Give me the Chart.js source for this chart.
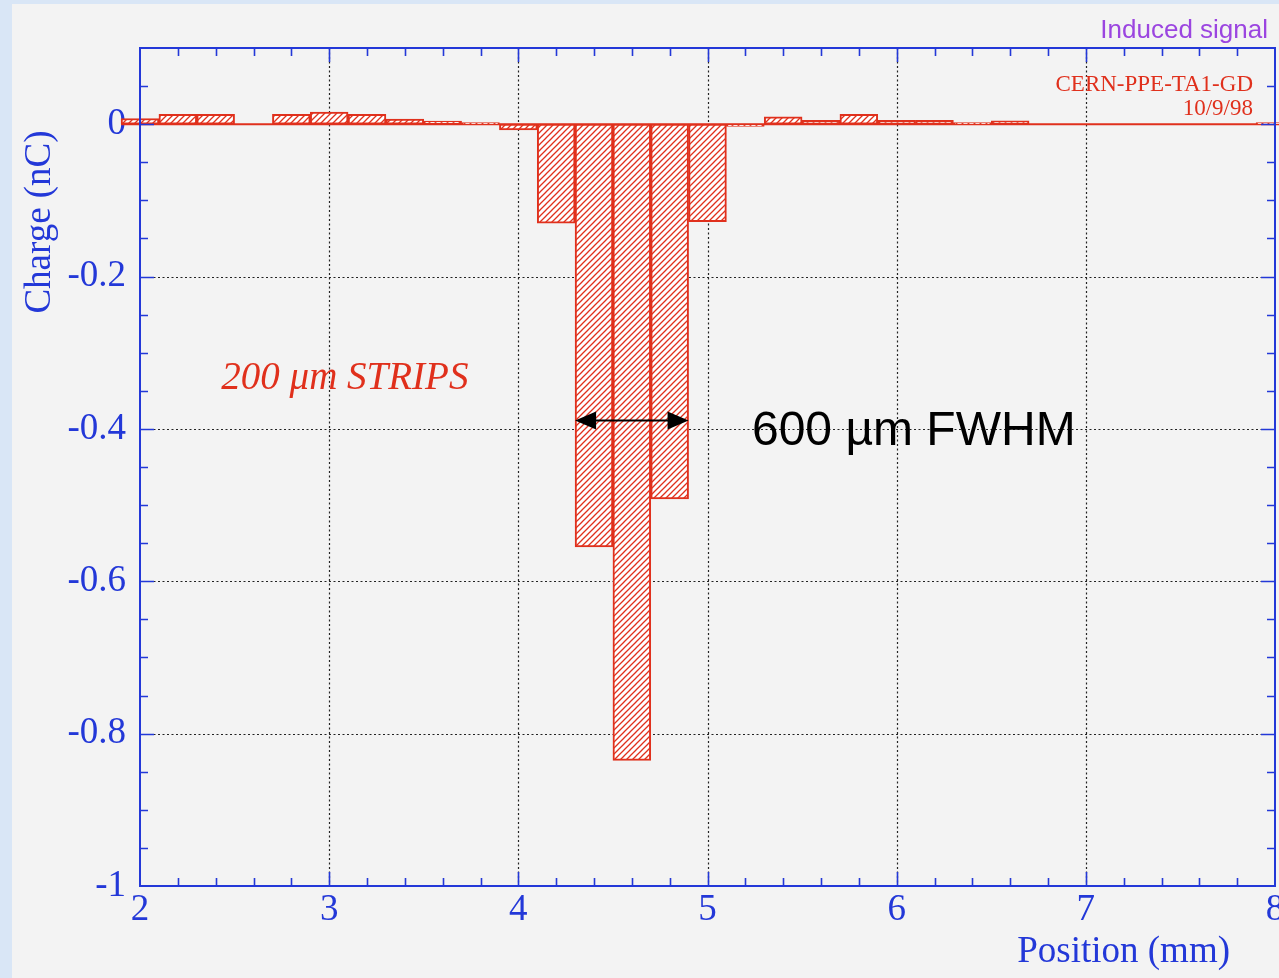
<!DOCTYPE html>
<html>
<head>
<meta charset="utf-8">
<script src="https://cdn.jsdelivr.net/npm/chart.js@4/dist/chart.umd.min.js"></script>
<style>
html,body{margin:0;padding:0;background:#d9e6f6;}
canvas{display:block;}
</style>
</head>
<body>
<canvas id="c" width="1279" height="978" style="width:1279px;height:978px"></canvas>
<script>
// ---- data ----
const positions = [2.0,2.2,2.4,2.6,2.8,3.0,3.2,3.4,3.6,3.8,4.0,4.2,4.4,4.6,4.8,5.0,5.2,5.4,5.6,5.8,6.0,6.2,6.4,6.6,6.8,7.0,7.2,7.4,7.6,7.8,8.0];
const charges   = [0.0075,0.013,0.013,0,0.013,0.016,0.013,0.0066,0.004,0.002,-0.0075,-0.130,-0.555,-0.835,-0.492,-0.128,-0.003,0.0096,0.005,0.013,0.005,0.005,0.002,0.0045,0,0,0,0,0,0,0.002];
const binWidth = 0.2;
const xTickValues = [2,3,4,5,6,7,8];
const xTickLabels = ['2','3','4','5','6','7','8'];
const xMinorStep = 0.2;
const yTickValues = [0,-0.2,-0.4,-0.6,-0.8,-1];
const yTickLabels = ['0','-0.2','-0.4','-0.6','-0.8','-1'];
const yMinorStep = 0.05;
const xTitle = 'Position (mm)';
const yTitle = 'Charge (nC)';
const fwhmArrow = [4.3, 4.9, -0.389];

const BLUE = '#2338d8';
const RED = '#e0301c';
const SERIF = '"Liberation Serif", "Times New Roman", serif';

// hatch pattern
function makeHatch(){
  const p = document.createElement('canvas');
  p.width = 6; p.height = 6;
  const g = p.getContext('2d');
  g.fillStyle = '#ffffff';
  g.fillRect(0,0,6,6);
  g.strokeStyle = RED;
  g.lineWidth = 1.3;
  g.beginPath();
  g.moveTo(-1,7); g.lineTo(7,-1);
  g.moveTo(-1,1); g.lineTo(1,-1);
  g.moveTo(5,7); g.lineTo(7,5);
  g.stroke();
  return g.createPattern(p,'repeat');
}
const ctx0 = document.getElementById('c').getContext('2d');
const hatch = makeHatch();

const bgPlugin = {
  id:'bg',
  beforeDraw(chart){
    const c = chart.ctx;
    c.save();
    c.fillStyle = '#d9e6f6';
    c.fillRect(0,0,chart.width,chart.height);
    c.fillStyle = '#f3f3f3';
    c.fillRect(12,4,chart.width-12,chart.height-4);
    c.restore();
  },
  beforeDatasetsDraw(chart){
    const c = chart.ctx, xs = chart.scales.x, ys = chart.scales.y, a = chart.chartArea;
    c.save();
    c.strokeStyle = '#222';
    c.lineWidth = 1.2;
    c.setLineDash([2,2.5]);
    xTickValues.forEach(v=>{
      if (v <= xs.min || v >= xs.max) return;
      const px = Math.round(xs.getPixelForValue(v))+0.5;
      c.beginPath(); c.moveTo(px,a.top); c.lineTo(px,a.bottom); c.stroke();
    });
    yTickValues.forEach(v=>{
      if (v <= ys.min || v >= ys.max || v === 0) return;
      const py = Math.round(ys.getPixelForValue(v))+0.5;
      c.beginPath(); c.moveTo(a.left,py); c.lineTo(a.right,py); c.stroke();
    });
    c.restore();
  },
  afterDatasetsDraw(chart){
    const c = chart.ctx, xs = chart.scales.x, ys = chart.scales.y, a = chart.chartArea;
    c.save();
    // frame
    c.strokeStyle = BLUE;
    c.lineWidth = 2;
    c.strokeRect(a.left, a.top, a.right-a.left, a.bottom-a.top);
    c.lineWidth = 1.6;
    // x ticks
    const nx = Math.round((xs.max-xs.min)/xMinorStep);
    for (let i=1;i<nx;i++){
      const v = xs.min + i*xMinorStep;
      const major = xTickValues.some(t=>Math.abs(t-v)<1e-6);
      const len = major ? 14 : 8;
      const px = Math.round(xs.getPixelForValue(v))+0.5;
      c.beginPath();
      c.moveTo(px,a.bottom); c.lineTo(px,a.bottom-len);
      c.moveTo(px,a.top); c.lineTo(px,a.top+len);
      c.stroke();
    }
    // y ticks
    const ny = Math.round((ys.max-ys.min)/yMinorStep);
    for (let i=1;i<ny;i++){
      const v = ys.min + i*yMinorStep;
      const major = yTickValues.some(t=>Math.abs(t-v)<1e-6);
      const len = major ? 14 : 8;
      const py = Math.round(ys.getPixelForValue(v))+0.5;
      c.beginPath();
      c.moveTo(a.left,py); c.lineTo(a.left+len,py);
      c.moveTo(a.right,py); c.lineTo(a.right-len,py);
      c.stroke();
    }
    // axis titles
    c.fillStyle = BLUE;
    c.font = '37px ' + SERIF;
    c.textAlign = 'right'; c.textBaseline = 'alphabetic';
    c.fillText(xTitle, 1230, 962);
    c.save();
    c.translate(50, 222);
    c.rotate(-Math.PI/2);
    c.textAlign = 'center';
    c.fillText(yTitle, 0, 0);
    c.restore();
    // top-right labels
    c.fillStyle = '#9b45e0';
    c.font = '26px "Liberation Sans", Arial, sans-serif';
    c.textAlign = 'right';
    c.fillText('Induced signal', 1268, 38);
    c.fillStyle = RED;
    c.font = '23px ' + SERIF;
    c.fillText('CERN-PPE-TA1-GD', 1253, 91);
    c.fillText('10/9/98', 1253, 115);
    // in-plot annotation
    c.font = 'italic 39px ' + SERIF;
    c.textAlign = 'left';
    c.fillText('200 \u03bcm STRIPS', xs.getPixelForValue(2.43), ys.getPixelForValue(-0.348));
    c.fillStyle = '#000';
    c.font = '48px "Liberation Sans", Arial, sans-serif';
    c.fillText('600 \u00b5m FWHM', xs.getPixelForValue(5.235), ys.getPixelForValue(-0.421));
    // arrow
    const x1 = xs.getPixelForValue(fwhmArrow[0]), x2 = xs.getPixelForValue(fwhmArrow[1]), ay = ys.getPixelForValue(fwhmArrow[2]);
    c.strokeStyle = '#000'; c.lineWidth = 2;
    c.beginPath(); c.moveTo(x1+10,ay); c.lineTo(x2-10,ay); c.stroke();
    c.beginPath();
    c.moveTo(x1,ay); c.lineTo(x1+21,ay-9); c.lineTo(x1+21,ay+9); c.closePath();
    c.moveTo(x2,ay); c.lineTo(x2-21,ay-9); c.lineTo(x2-21,ay+9); c.closePath();
    c.fill();
    c.restore();
  }
};

const barData = positions.map((p,i)=>({x:p, y:charges[i]}));
const baseline = [{x:positions[0]-binWidth/2, y:0},{x:positions[positions.length-1]+binWidth/2, y:0}];

new Chart(ctx0, {
  type:'bar',
  data:{
    datasets:[
      {
        type:'line',
        data: baseline,
        borderColor: RED,
        borderWidth: 2,
        pointRadius: 0,
        clip: false,
        order: 2
      },
      {
        type:'bar',
        data: barData,
        backgroundColor: hatch,
        borderColor: RED,
        borderWidth: 2,
        borderSkipped: false,
        barPercentage: 1,
        categoryPercentage: 1,
        clip: false,
        order: 1
      }
    ]
  },
  options:{
    responsive:false,
    animation:false,
    devicePixelRatio:1,
    layout:{padding:{left:0,top:48,right:4,bottom:0}},
    plugins:{legend:{display:false},tooltip:{enabled:false}},
    scales:{
      x:{
        type:'linear', min:2, max:8, offset:false,
        grid:{display:false, drawTicks:false, offset:false},
        border:{display:false},
        afterBuildTicks(s){ s.ticks = xTickValues.map(v=>({value:v})); },
        afterFit(s){ s.height = 92; s.paddingLeft = 0; s.paddingRight = 0; },
        ticks:{
          color: BLUE, font:{family:SERIF, size:37}, padding:2, maxRotation:0, autoSkip:false,
          callback(v){ const i = xTickValues.findIndex(t=>Math.abs(t-v)<1e-6); return i>=0 ? xTickLabels[i] : ''; }
        }
      },
      y:{
        type:'linear', min:-1, max:0.1,
        grid:{display:false, drawTicks:false},
        border:{display:false},
        afterBuildTicks(s){ s.ticks = yTickValues.map(v=>({value:v})); },
        afterFit(s){ s.width = 140; s.paddingTop = 0; s.paddingBottom = 0; },
        ticks:{
          color: BLUE, font:{family:SERIF, size:37}, padding:14, autoSkip:false,
          callback(v){ const i = yTickValues.findIndex(t=>Math.abs(t-v)<1e-6); return i>=0 ? yTickLabels[i] : ''; }
        }
      }
    }
  },
  plugins:[bgPlugin]
});
</script>
</body>
</html>
